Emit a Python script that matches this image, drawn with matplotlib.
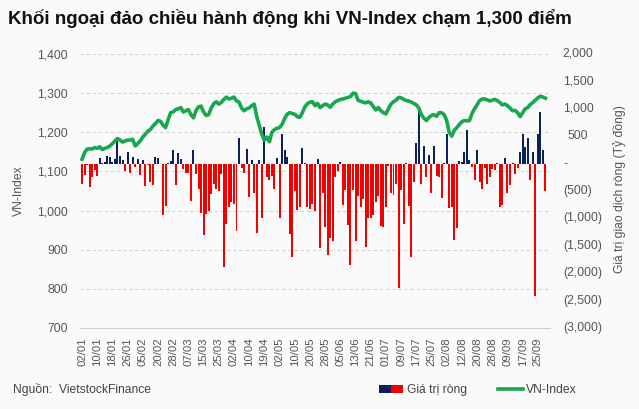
import matplotlib
matplotlib.use('Agg')
import matplotlib.pyplot as plt
import matplotlib.transforms as mtrans
from matplotlib.patches import Patch
from matplotlib.lines import Line2D
from matplotlib.legend_handler import HandlerTuple
import numpy as np

plt.rcParams['font.family'] = ['Liberation Sans', 'DejaVu Sans']

# ---- data (trading days from 02/01) ----
net_jan_feb = [-376, -206, -24, -424, -242, -121, -230, 109, 18, 36, 139, 127, 36, 91, 412, 139,
               61, -133, 218, -164, 127, -61, 79, -206, 61, -412, -24, -327, -388, 127, 109]
net_feb_apr = [-12, -939, -770, 18, 48, 242, -394, 200, 91, -103, -164, -164, -679, 242, -194, -467,
               -903, -1303, -921, -861, -558, -376, -467, -497, -182, -1879, -1103, -788, -709, -739,
               -1224, 473]
net_apr_may = [-73, -164, 273, -618, 61, -545, -1273, 61, -994, 667, -242, -303, -224, -467, 109, -994,
               545, 242, 121, -1285, -1697, -509, -848, -800, 291, 18, -788, -830, -739, -861, 79]
net_may_jul = [-1539, -545, -1164, -1661, -1358, -1418, -242, -133, 36, -752, -485, -1115, -1842, -485,
               -1406, -588, -788, -648, -1515, -994, -994, -939, -709, -588, -1133, -1164, -800, -42,
               -545, -576, -376]
net_jul_aug = [-2267, -485, -1103, 12, -770, -1697, -327, 382, 958, -376, 321, -242, 158, -539, 321,
               -224, -242, -630, 18, 545, -812, -788, -1394, -1176, 48, 36, 218, 618, 61, -61, -303, 242]
net_aug_sep = [-327, -467, -73, -376, -242, -103, -121, 18, -800, -758, 109, -539, -388, 18, -194, -73,
               218, 533, 309, 473, -303, 218, -2424, 533, 945, 242, -497]

vn_jan_feb = [1131, 1148, 1157, 1158, 1157, 1161, 1159, 1163, 1156, 1159, 1161, 1165, 1171, 1178, 1184,
              1180, 1175, 1178, 1180, 1180, 1182, 1165, 1171, 1178, 1188, 1195, 1203, 1207, 1216, 1222, 1230]
vn_feb_apr = [1228, 1218, 1212, 1232, 1250, 1252, 1258, 1260, 1263, 1252, 1255, 1258, 1245, 1237, 1255,
              1265, 1267, 1252, 1243, 1245, 1262, 1273, 1278, 1272, 1276, 1284, 1290, 1285, 1287, 1290,
              1280, 1277]
vn_apr_may = [1262, 1255, 1260, 1262, 1268, 1272, 1240, 1218, 1195, 1180, 1188, 1176, 1200, 1207, 1210,
              1212, 1220, 1235, 1246, 1250, 1248, 1246, 1240, 1238, 1250, 1265, 1273, 1277, 1278, 1268, 1274]
vn_may_jul = [1263, 1268, 1272, 1270, 1264, 1272, 1278, 1281, 1284, 1285, 1287, 1289, 1291, 1300, 1299,
              1282, 1279, 1277, 1275, 1278, 1275, 1266, 1257, 1263, 1255, 1250, 1247, 1260, 1272, 1278, 1282]
vn_jul_aug = [1289, 1288, 1284, 1281, 1280, 1277, 1274, 1270, 1262, 1245, 1236, 1230, 1238, 1243, 1245,
              1241, 1250, 1250, 1245, 1230, 1200, 1190, 1205, 1212, 1220, 1227, 1230, 1229, 1230, 1248,
              1260, 1270]
vn_aug_sep = [1281, 1285, 1285, 1283, 1280, 1282, 1284, 1281, 1276, 1270, 1272, 1268, 1262, 1255, 1256,
              1250, 1240, 1250, 1260, 1263, 1271, 1276, 1282, 1288, 1292, 1290, 1287]

date_labels = ['02/01', '10/01', '18/01', '26/01', '05/02', '20/02', '28/02', '07/03', '15/03', '25/03',
               '02/04', '10/04', '19/04', '02/05', '10/05', '20/05', '28/05', '05/06', '13/06', '21/06',
               '01/07', '09/07', '17/07', '25/07', '02/08', '12/08', '20/08', '28/08', '09/09', '17/09',
               '25/09']

left_ticks = [700, 800, 900, 1000, 1100, 1200, 1300, 1400]
right_ticks = [-3000, -2500, -2000, -1500, -1000, -500, 0, 500, 1000, 1500, 2000]

net_flow = np.array(net_jan_feb + net_feb_apr + net_apr_may + net_may_jul + net_jul_aug + net_aug_sep)
vn_index = np.array(vn_jan_feb + vn_feb_apr + vn_apr_may + vn_may_jul + vn_jul_aug + vn_aug_sep)
x = np.arange(len(net_flow))

# ---- style ----
navy = '#0b2258'
red = '#f20000'
green = '#17a84e'
grid_c = '#d2d2d2'
txt_c = '#555555'
bg = '#fafafa'

W, H = 639, 409
fig = plt.figure(figsize=(W / 100, H / 100), dpi=100, facecolor=bg)
ax = fig.add_axes([80 / W, 1 - 328 / H, 470 / W, 274 / H])
ax2 = ax.twinx()
ax.set_zorder(2)
ax2.set_zorder(1)
ax.patch.set_visible(False)
ax2.patch.set_facecolor(bg)

# bars (right axis)
colors = [navy if v >= 0 else red for v in net_flow]
ax2.bar(x, net_flow, width=0.78, color=colors, linewidth=0, zorder=3)
ax2.set_ylim(-3000, 2000)

# line (left axis)
ax.plot(x, vn_index, color=green, lw=2.6, solid_joinstyle='round', zorder=5)
ax.set_ylim(700, 1400)
ax.set_xlim(-0.8, len(net_flow) + 0.8)

# gridlines at left ticks, drawn behind the bars
gtrans = mtrans.blended_transform_factory(ax2.transAxes, ax.transData)
for t in left_ticks[1:]:
    ax2.plot([0, 1], [t, t], transform=gtrans, color=grid_c, lw=0.8, ls=(0, (3, 2.5)), zorder=1)

for a in (ax, ax2):
    for s in ('top', 'left', 'right'):
        a.spines[s].set_visible(False)
    a.tick_params(length=0)
ax.spines['bottom'].set_color('#cfcfcf')
ax2.spines['bottom'].set_visible(False)

ax.set_yticks(left_ticks)
ax.set_yticklabels([f'{t:,}' for t in left_ticks], fontsize=8.7, color=txt_c)
ax.tick_params(axis='y', pad=9)

ax.set_xticks(x[::6][:len(date_labels)])
ax.set_xticklabels(date_labels, rotation=90, fontsize=8.2, color=txt_c, va='top', ha='center')
ax.tick_params(axis='x', pad=7)

ax2.set_yticks(right_ticks)
ax2.set_yticklabels([])
rtrans = mtrans.blended_transform_factory(fig.transFigure, ax2.transData)
for t in right_ticks:
    if t > 0:
        ax2.text(578 / W, t, f'{t:,}', transform=rtrans, ha='center', va='center', fontsize=8.7, color=txt_c)
    elif t == 0:
        ax2.text(566 / W, t, '-', transform=rtrans, ha='center', va='center', fontsize=8.7, color=txt_c)
    else:
        ax2.text(563 / W, t, f'({-t:,})', transform=rtrans, ha='left', va='center', fontsize=8.7, color=txt_c)

fig.text(19 / W, 1 - 191 / H, 'VN-Index', rotation=90, ha='center', va='center', fontsize=8.7, color=txt_c)
fig.text(619 / W, 1 - 189 / H, 'Giá trị giao dịch ròng (Tỷ đồng)', rotation=90, ha='center', va='center',
         fontsize=8.7, color=txt_c)

fig.text(8 / W, 1 - 18 / H, 'Khối ngoại đảo chiều hành động khi VN-Index chạm 1,300 điểm',
         fontsize=13.5, fontweight='bold', color='#111111', ha='left', va='center')

fig.text(13 / W, 1 - 389 / H, 'Nguồn:  VietstockFinance', fontsize=8.7, color='#444444', ha='left', va='center')

handles = [(Patch(fc=navy, lw=0), Patch(fc=red, lw=0)), Line2D([], [], color=green, lw=2.6)]
fig.legend(handles, ['Giá trị ròng', 'VN-Index'], handler_map={tuple: HandlerTuple(ndivide=None, pad=0)},
           loc='center', bbox_to_anchor=(478 / W, 1 - 390 / H), ncol=2, frameon=False, fontsize=8.7,
           handlelength=2.0, handleheight=0.6, handletextpad=0.3, columnspacing=2.6, labelcolor='#444444')

fig.savefig('out.png', dpi=100, facecolor=bg)
